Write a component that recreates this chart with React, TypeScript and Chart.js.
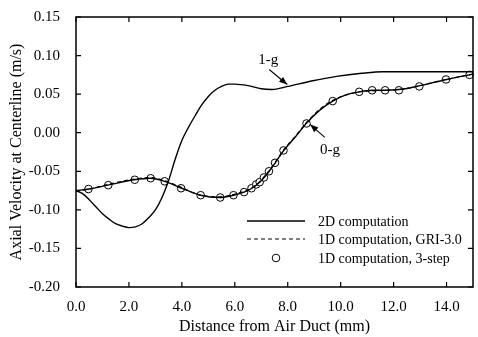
import React, { useEffect, useRef } from "react";
import { Chart, registerables } from "chart.js";

Chart.register(...registerables);

// 2D computation, 1-g
const oneGX = [0, 0.25, 0.5, 0.75, 1.0, 1.25, 1.5, 1.75, 2.0, 2.25, 2.5, 2.75, 3.0, 3.25, 3.5, 3.75, 4.0, 4.25, 4.5, 4.75, 5.0, 5.25, 5.5, 5.75, 6.0, 6.5, 7.0, 7.4, 8.0, 8.9, 9.85, 10.8, 11.6, 12.5, 13.5, 15.0];
const oneGY = [-0.075, -0.079, -0.087, -0.096, -0.105, -0.112, -0.118, -0.121, -0.123, -0.122, -0.118, -0.110, -0.100, -0.084, -0.062, -0.034, -0.010, 0.007, 0.022, 0.036, 0.047, 0.055, 0.060, 0.063, 0.063, 0.061, 0.057, 0.056, 0.060, 0.067, 0.073, 0.077, 0.079, 0.079, 0.079, 0.079];

// 2D computation, 0-g
const zeroGX = [0, 0.5, 1.2, 2.2, 2.8, 3.35, 4.0, 4.7, 5.45, 5.95, 6.35, 6.65, 6.95, 7.3, 7.55, 7.85, 8.3, 8.7, 9.2, 9.7, 10.2, 10.7, 11.2, 11.7, 12.2, 12.6, 13.0, 14.0, 15.0];
const zeroGY = [-0.075, -0.073, -0.068, -0.061, -0.059, -0.063, -0.072, -0.081, -0.084, -0.081, -0.077, -0.072, -0.064, -0.050, -0.038, -0.023, -0.005, 0.012, 0.029, 0.041, 0.049, 0.053, 0.055, 0.055, 0.056, 0.058, 0.061, 0.069, 0.076];

// 1D computation, GRI-3.0
const griX = [0, 0.5, 1.2, 2.2, 2.8, 3.35, 4.0, 4.7, 5.45, 5.95, 6.35, 6.65, 6.95, 7.3, 7.55, 7.85, 8.3, 8.7, 9.2, 9.7, 10.2, 10.7, 11.2, 11.7, 12.2, 12.6, 13.0, 14.0, 15.0];
const griY = [-0.076, -0.073, -0.067, -0.060, -0.058, -0.062, -0.071, -0.081, -0.083, -0.080, -0.076, -0.071, -0.063, -0.049, -0.037, -0.022, -0.004, 0.013, 0.030, 0.042, 0.049, 0.053, 0.054, 0.055, 0.056, 0.058, 0.061, 0.069, 0.076];

// 1D computation, 3-step
const stepX = [0.47, 1.22, 2.22, 2.82, 3.35, 3.97, 4.71, 5.45, 5.95, 6.35, 6.63, 6.81, 6.94, 7.10, 7.29, 7.52, 7.84, 8.71, 9.70, 10.70, 11.19, 11.68, 12.20, 12.97, 13.98, 14.87];
const stepY = [-0.073, -0.068, -0.061, -0.059, -0.063, -0.072, -0.081, -0.084, -0.081, -0.077, -0.072, -0.067, -0.064, -0.058, -0.050, -0.039, -0.023, 0.012, 0.041, 0.053, 0.055, 0.055, 0.055, 0.060, 0.069, 0.075];

const legendLabels = ["2D computation", "1D computation, GRI-3.0", "1D computation, 3-step"];
const xTitle = "Distance from Air Duct (mm)";
const yTitle = "Axial Velocity at Centerline (m/s)";

const pts = (xs: number[], ys: number[]) => xs.map((x, i) => ({ x, y: ys[i] }));

const FONT = "'Liberation Serif', 'Times New Roman', serif";

function arrow(ctx: CanvasRenderingContext2D, x1: number, y1: number, x2: number, y2: number) {
  ctx.beginPath();
  ctx.moveTo(x1, y1);
  ctx.lineTo(x2, y2);
  ctx.stroke();
  const a = Math.atan2(y2 - y1, x2 - x1);
  const L = 8, W = 3.2;
  ctx.beginPath();
  ctx.moveTo(x2, y2);
  ctx.lineTo(x2 - L * Math.cos(a) + W * Math.sin(a), y2 - L * Math.sin(a) - W * Math.cos(a));
  ctx.lineTo(x2 - L * Math.cos(a) - W * Math.sin(a), y2 - L * Math.sin(a) + W * Math.cos(a));
  ctx.closePath();
  ctx.fill();
}

const decorPlugin = {
  id: "decor",
  afterDraw(chart: any) {
    const ctx: CanvasRenderingContext2D = chart.ctx;
    const { left, right, top, bottom } = chart.chartArea;
    const xs = chart.scales.x;
    const ys = chart.scales.y;
    ctx.save();
    ctx.strokeStyle = "#000";
    ctx.fillStyle = "#000";
    ctx.lineWidth = 1.5;
    ctx.strokeRect(left, top, right - left, bottom - top);
    ctx.lineWidth = 1.2;
    const tl = 5;
    xs.ticks.forEach((t: any) => {
      const px = xs.getPixelForValue(t.value);
      ctx.beginPath();
      ctx.moveTo(px, bottom);
      ctx.lineTo(px, bottom - tl);
      ctx.moveTo(px, top);
      ctx.lineTo(px, top + tl);
      ctx.stroke();
    });
    ys.ticks.forEach((t: any) => {
      const py = ys.getPixelForValue(t.value);
      ctx.beginPath();
      ctx.moveTo(left, py);
      ctx.lineTo(left + tl, py);
      ctx.moveTo(right, py);
      ctx.lineTo(right - tl, py);
      ctx.stroke();
    });

    // legend
    ctx.font = `14px ${FONT}`;
    ctx.textBaseline = "middle";
    ctx.textAlign = "left";
    const lx0 = left + 171, lx1 = left + 229, tx = left + 242;
    const rows = [bottom - 66, bottom - 48, bottom - 29];
    ctx.lineWidth = 1.3;
    ctx.setLineDash([]);
    ctx.beginPath();
    ctx.moveTo(lx0, rows[0]);
    ctx.lineTo(lx1, rows[0]);
    ctx.stroke();
    ctx.setLineDash([4, 3]);
    ctx.lineWidth = 1.1;
    ctx.beginPath();
    ctx.moveTo(lx0, rows[1]);
    ctx.lineTo(lx1, rows[1]);
    ctx.stroke();
    ctx.setLineDash([]);
    ctx.lineWidth = 1;
    ctx.beginPath();
    ctx.arc((lx0 + lx1) / 2, rows[2], 3.8, 0, Math.PI * 2);
    ctx.fillStyle = "#fff";
    ctx.fill();
    ctx.stroke();
    ctx.fillStyle = "#000";
    legendLabels.forEach((s, i) => ctx.fillText(s, tx, rows[i] + 1));

    // annotations
    ctx.font = `15px ${FONT}`;
    ctx.textAlign = "center";
    ctx.textBaseline = "alphabetic";
    ctx.fillText("1-g", xs.getPixelForValue(7.26), ys.getPixelForValue(0.0895));
    ctx.fillText("0-g", xs.getPixelForValue(9.6), ys.getPixelForValue(-0.027));
    ctx.lineWidth = 1.1;
    arrow(ctx, xs.getPixelForValue(7.3), ys.getPixelForValue(0.082), xs.getPixelForValue(7.98), ys.getPixelForValue(0.0625));
    arrow(ctx, xs.getPixelForValue(9.4), ys.getPixelForValue(-0.006), xs.getPixelForValue(8.85), ys.getPixelForValue(0.0105));
    ctx.restore();
  },
};

export default function App() {
  const ref = useRef<HTMLCanvasElement | null>(null);
  useEffect(() => {
    if (!ref.current) return;
    const lineBase = {
      showLine: true,
      pointRadius: 0,
      borderColor: "#000",
      backgroundColor: "#000",
      cubicInterpolationMode: "monotone" as const,
      fill: false,
    };
    const chart = new Chart(ref.current, {
      type: "scatter",
      data: {
        datasets: [
          { ...lineBase, label: "2D 1-g", data: pts(oneGX, oneGY), borderWidth: 1.4 },
          { ...lineBase, label: "2D 0-g", data: pts(zeroGX, zeroGY), borderWidth: 1.4 },
          { ...lineBase, label: "GRI-3.0", data: pts(griX, griY), borderWidth: 1.1, borderDash: [4, 3] },
          {
            label: "3-step",
            data: pts(stepX, stepY),
            showLine: false,
            pointRadius: 3.8,
            pointBorderWidth: 1,
            pointBorderColor: "#000",
            pointBackgroundColor: "#fff",
            clip: 6,
          },
        ],
      },
      options: {
        animation: false,
        responsive: false,
        layout: { padding: { top: 13, right: 1, left: 0, bottom: 0 } },
        plugins: { legend: { display: false }, tooltip: { enabled: false } },
        scales: {
          x: {
            type: "linear",
            min: 0,
            max: 15,
            grid: { display: false },
            border: { display: false },
            ticks: {
              stepSize: 2,
              includeBounds: false,
              padding: 3,
              color: "#000",
              font: { family: FONT, size: 15 },
              maxRotation: 0,
              callback: (v: any) => Number(v).toFixed(1),
            },
            title: {
              display: true,
              text: xTitle,
              color: "#000",
              font: { family: FONT, size: 16 },
              padding: { top: 0, bottom: 1 },
            },
            afterFit: (s: any) => {
              s.height = 50;
            },
          },
          y: {
            type: "linear",
            min: -0.2,
            max: 0.15,
            grid: { display: false },
            border: { display: false },
            ticks: {
              stepSize: 0.05,
              padding: 8,
              color: "#000",
              font: { family: FONT, size: 15 },
              callback: (v: any) => (Math.abs(Number(v)) < 1e-9 ? "0.00" : Number(v).toFixed(2)),
            },
            title: {
              display: true,
              text: yTitle,
              color: "#000",
              font: { family: FONT, size: 16 },
              padding: { top: 7, bottom: 0 },
            },
            afterFit: (s: any) => {
              s.width = 76;
            },
          },
        },
      },
      plugins: [decorPlugin],
    });
    return () => chart.destroy();
  }, []);
  return (
    <div style={{ position: "fixed", left: 0, top: 0, width: 478, height: 337, background: "#fff" }}>
      <canvas ref={ref} width={478} height={337} />
    </div>
  );
}
